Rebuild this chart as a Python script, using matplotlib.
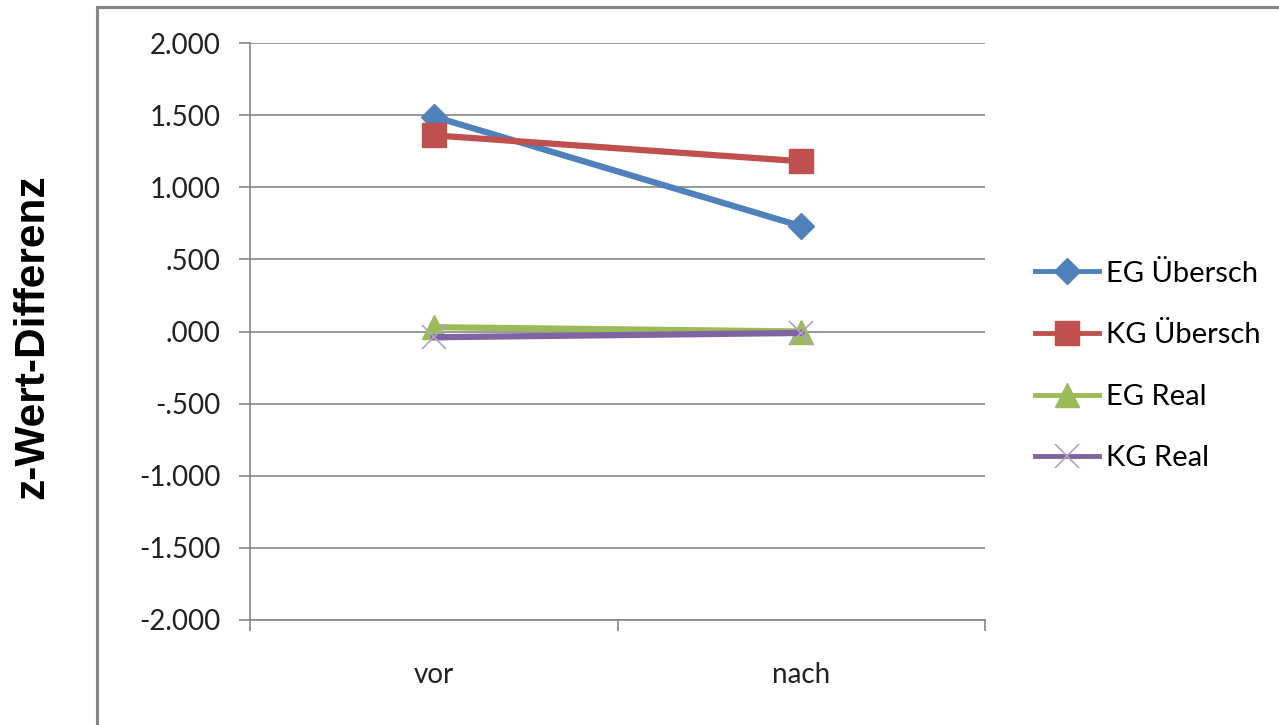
import matplotlib
matplotlib.use("Agg")
import matplotlib.pyplot as plt
from matplotlib.patches import Rectangle
from matplotlib.ticker import FuncFormatter, FixedLocator

# Daten: z-Wert-Differenz vor/nach
zeitpunkte = ["vor", "nach"]
eg_uebersch = [1.49, 0.73]
kg_uebersch = [1.36, 1.18]
eg_real = [0.03, 0.00]
kg_real = [-0.04, -0.01]

plt.rcParams["font.family"] = ["Lato", "DejaVu Sans"]

fig = plt.figure(figsize=(12.79, 7.25), dpi=100)
ax = fig.add_axes([250 / 1279, 1 - 620 / 725, 735 / 1279, 577 / 725])

x = [0, 1]
ax.plot(x, eg_uebersch, color="#4F81BD", lw=4.5, marker="D", ms=13,
        label="EG Übersch", zorder=3)
ax.plot(x, kg_uebersch, color="#C0504D", lw=4.5, marker="s", ms=17,
        label="KG Übersch", zorder=3)
ax.plot(x, eg_real, color="#9BBB59", lw=4.5, marker="^", ms=17,
        label="EG Real", zorder=3)
ax.plot(x, kg_real, color="#8064A2", lw=4.5, marker="x", ms=17,
        mec="#B3A2C7", mew=1.2, label="KG Real", zorder=4)

ax.set_xlim(-0.5, 1.5)
ax.set_ylim(-2, 2)
ax.set_yticks([-2, -1.5, -1, -0.5, 0, 0.5, 1, 1.5, 2])


def fmt(v, pos):
    s = f"{v:.3f}"
    if s.startswith("0."):
        s = s[1:]
    elif s.startswith("-0."):
        s = "-" + s[2:]
    return s


ax.yaxis.set_major_formatter(FuncFormatter(fmt))
ax.set_xticks(x)
ax.set_xticklabels(zeitpunkte)
ax.xaxis.set_minor_locator(FixedLocator([-0.5, 0.5, 1.5]))
ax.tick_params(axis="x", which="major", length=0, pad=30, labelsize=20, labelcolor="#222222")
ax.tick_params(axis="x", which="minor", length=8, width=1.2, color="#868686")
ax.tick_params(axis="y", length=8, width=1.2, color="#868686", pad=13,
               labelsize=20, labelcolor="#222222")

ax.grid(axis="y", color="#868686", lw=1.2)
ax.set_axisbelow(True)
for side in ["top", "right"]:
    ax.spines[side].set_visible(False)
for side in ["left", "bottom"]:
    ax.spines[side].set_color("#868686")
    ax.spines[side].set_linewidth(1.2)

fig.text(32 / 1279, 1 - 337 / 725, "z-Wert-Differenz", rotation=90,
         ha="center", va="center", fontsize=30.5, fontweight="bold",
         family=["Liberation Sans", "DejaVu Sans"])

leg = ax.legend(loc="center left", bbox_to_anchor=(1035 / 1279, 1 - 366 / 725),
                bbox_transform=fig.transFigure, frameon=False, fontsize=21,
                handlelength=2.2, handletextpad=0.25, labelspacing=1.22,
                borderpad=0, borderaxespad=0)
for line in leg.get_lines():
    line.set_linewidth(3.5)

# Rahmen um das Diagramm
fig.patches.append(Rectangle((97 / 1279, -0.1), 1.2, 1.1 - 7 / 725,
                             transform=fig.transFigure, fill=False,
                             ec="#868686", lw=2.2))

fig.savefig("out.png", dpi=100)
